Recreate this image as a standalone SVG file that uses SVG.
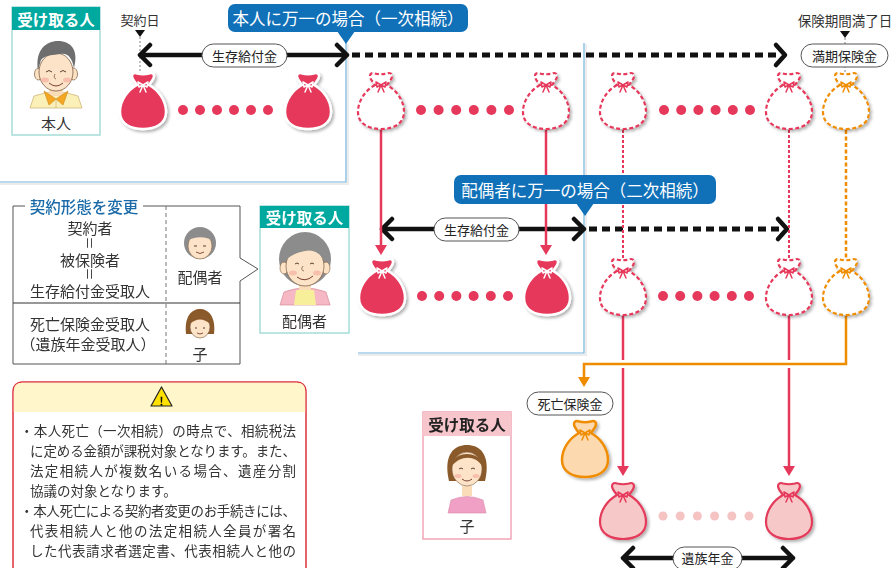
<svg xmlns="http://www.w3.org/2000/svg" width="896" height="568" viewBox="0 0 896 568">
<defs>
  <style>
    text { font-family: 'Noto Sans CJK JP', 'Noto Sans', sans-serif; fill: #333; }
    .hdr { fill: #fff; font-size: 15.5px; font-weight: 700; text-anchor: middle; dominant-baseline: central; }
    .lbl { font-size: 14px; text-anchor: middle; dominant-baseline: central; }
    .pill rect { fill: #fff; stroke: #555; stroke-width: 1; }
    .pill text { font-size: 13px; text-anchor: middle; dominant-baseline: central; fill: #222; }
    .callout text { fill: #fff; font-size: 16.5px; text-anchor: middle; dominant-baseline: central; }
    .callout rect, .callout polygon { fill: #1070b8; }
    .solid { fill: none; stroke: #111; stroke-width: 4.5; stroke-linecap: round; stroke-linejoin: round; }
    .dash { fill: none; stroke: #111; stroke-width: 5; stroke-dasharray: 8 5; }
    .panel { fill: none; stroke: #74b5de; stroke-width: 1.2; }
    .panel-sh { fill: none; stroke: #ececec; stroke-width: 2; }
    .guide { stroke: #999; stroke-width: 1.2; stroke-dasharray: 2 2; fill: none; }
    .dot { fill: #e6385a; }
    .pdot { fill: #f6c3c3; }
    .bag-solid { fill: #e6385a; stroke: #fff; stroke-width: 2.5; }
    .bag-dash { fill: #fff; stroke: #e6385a; stroke-width: 2.2; stroke-dasharray: 4 2.5; }
    .bag-odash { fill: #fff; stroke: #f08c00; stroke-width: 2.2; stroke-dasharray: 4 2.5; }
    .bag-pink { fill: #f7c8c8; stroke: #e43a5a; stroke-width: 2.2; }
    .bag-orange { fill: #fcd9ae; stroke: #f08c00; stroke-width: 2.5; }
    .bow-w { fill: none; stroke: #fff; stroke-width: 1.5; stroke-linecap: round; stroke-linejoin: round; }
    .bow-r { fill: none; stroke: #e6385a; stroke-width: 1.5; stroke-linecap: round; stroke-linejoin: round; }
    .bow-o { fill: none; stroke: #f08c00; stroke-width: 1.5; stroke-linecap: round; stroke-linejoin: round; }
    .red { stroke: #e6385a; stroke-width: 2.5; fill: none; }
    .red-dot { stroke: #e6385a; stroke-width: 2; stroke-dasharray: 3 2; fill: none; }
    .org { stroke: #f08c00; stroke-width: 2.5; fill: none; }
    .org-dot { stroke: #f08c00; stroke-width: 2.5; stroke-dasharray: 4 2.5; fill: none; }
    .note { font-size: 13.5px; }
  </style>
  <filter id="sh" x="-30%" y="-30%" width="160%" height="160%">
    <feDropShadow dx="2" dy="2" stdDeviation="1.5" flood-color="#000" flood-opacity="0.3"/>
  </filter>
  <!-- money bag, centred on its middle, 56 tall -->
  <path id="bag" d="M -6,-16 C -15,-11 -23,-1 -23,11 C -23,23 -12,28 0,28 C 12,28 23,23 23,11 C 23,-1 15,-11 6,-16 C 8,-19 11,-22 11,-25 C 11,-28 8,-28.5 6,-27.5 Q 0,-26 -6,-27.5 C -8,-28.5 -11,-28 -11,-25 C -11,-22 -8,-19 -6,-16 Z"/>
  <!-- knot: two small loops and two tails -->
  <path id="bow" d="M 0,-16 L -5,-19 L -4,-14 Z M 0,-16 L 5,-19 L 4,-14 Z M 0,-16 L -3,-9 M 0,-16 L 3,-9"/>
  <path id="tri" d="M -5,0 L 5,0 L 0,7 Z" fill="#111"/>
  <path id="ahead" d="M -6,-10 L 6,-10 L 0,0 Z"/>
</defs>

<rect width="896" height="568" fill="#fff"/>

<!-- panel frames -->
<g id="panels">
  <path class="panel-sh" d="M 0,184 H 348 V 44"/>
  <path class="panel" d="M 0,182 H 346 V 43"/>
  <path class="panel-sh" d="M 358,355 H 586 V 44"/>
  <path class="panel" d="M 358,353 H 584 V 43"/>
</g>

<!-- recipient: 本人 -->
<g id="recipient-self">
  <rect x="12" y="7" width="88" height="128" fill="#fff" stroke="#a6dcd8" stroke-width="1.5"/>
  <rect x="12" y="7" width="88" height="23" fill="#00a99f"/>
  <text class="hdr" x="56" y="18.5">受け取る人</text>
  <path d="M 30,108 L 34,96 Q 56,88 78,96 L 82,108 Z" fill="#fbf0b8" stroke="#cdb77c" stroke-width="0.8"/>
  <rect x="49" y="84" width="14" height="12" fill="#fbdcb8"/>
  <path d="M 44,91 L 56,99 L 49,105 Z M 68,91 L 56,99 L 63,105 Z" fill="#f5a623" stroke="#c98416" stroke-width="0.6"/>
  <line x1="56" y1="99" x2="56" y2="108" stroke="#cdb77c" stroke-width="0.8"/>
  <ellipse cx="38.5" cy="74" rx="4" ry="6" fill="#fde2c4" stroke="#7a5a40" stroke-width="0.7"/>
  <ellipse cx="73.5" cy="74" rx="4" ry="6" fill="#fde2c4" stroke="#7a5a40" stroke-width="0.7"/>
  <ellipse cx="56" cy="72" rx="17" ry="19" fill="#fde4c8" stroke="#7a5a40" stroke-width="0.8"/>
  <path d="M 38,70 C 35,50 46,41 58,41 C 71,41 79,50 74,68 C 72,58 68,53 61,54 C 53,55 45,55 41,60 Z" fill="#6e6e6e"/>
  <path d="M 46,72 q 3,-3 6,0 M 60,72 q 3,-3 6,0" fill="none" stroke="#5a4030" stroke-width="1"/>
  <ellipse cx="45" cy="80" rx="4" ry="2.5" fill="#f5b0a0" opacity="0.7"/>
  <ellipse cx="67" cy="80" rx="4" ry="2.5" fill="#f5b0a0" opacity="0.7"/>
  <path d="M 55,74 q -2,4 1,5" fill="none" stroke="#7a5a40" stroke-width="0.8"/>
  <path d="M 49,83 q 7,6 14,0" fill="none" stroke="#7a4030" stroke-width="1"/>
  <text class="lbl" x="56" y="122" style="font-size:15px">本人</text>
</g>

<!-- first-death callout -->
<g id="callout-first" class="callout">
  <rect x="228" y="4" width="240" height="28" rx="7"/>
  <polygon points="337,31 355,31 346,44"/>
  <text x="348" y="18">本人に万一の場合（一次相続）</text>
</g>

<!-- date markers -->
<g id="marker-contract">
  <text class="lbl" x="140" y="19" style="font-size:13px">契約日</text>
  <use href="#tri" x="140" y="30"/>
</g>
<g id="marker-maturity">
  <text class="lbl" x="845" y="20" style="font-size:13.5px">保険期間満了日</text>
  <use href="#tri" x="845" y="31"/>
</g>

<!-- connectors -->
<g id="connectors">
  <line class="guide" x1="140" y1="37" x2="140" y2="74"/>
  <line class="guide" x1="845" y1="38" x2="845" y2="74"/>

  <!-- row 1: survival benefit span -->
  <path class="solid" d="M 140,55 H 347 M 150,45 L 140,55 L 150,65 M 337,45 L 347,55 L 337,65"/>
  <path class="dash" d="M 352,55 H 780"/>
  <path class="solid" d="M 776,45 L 785,55 L 776,65"/>

  <!-- row 2: survival benefit span -->
  <path class="solid" d="M 382,229 H 584 M 392,219 L 382,229 L 392,239 M 574,219 L 584,229 L 574,239"/>
  <path class="dash" d="M 589,229 H 782"/>
  <path class="solid" d="M 778,219 L 787,229 L 778,239"/>

  <!-- bottom: survivor pension span -->
  <path class="solid" d="M 623,558 H 793 M 633,548 L 623,558 L 633,568 M 783,548 L 793,558 L 783,568"/>

  <!-- hand-over from row 1 to row 2 -->
  <line class="red" x1="381" y1="130" x2="381" y2="246"/>
  <use href="#ahead" x="381" y="255" fill="#e6385a"/>
  <line class="red" x1="546" y1="130" x2="546" y2="246"/>
  <use href="#ahead" x="546" y="255" fill="#e6385a"/>
  <line class="red-dot" x1="623" y1="130" x2="623" y2="260"/>
  <line class="red-dot" x1="789" y1="130" x2="789" y2="260"/>
  <line class="org-dot" x1="846" y1="130" x2="846" y2="260"/>

  <!-- row 2 to the child -->
  <line class="red" x1="623" y1="316" x2="623" y2="467"/>
  <use href="#ahead" x="623" y="476" fill="#e6385a"/>
  <line class="red" x1="789" y1="316" x2="789" y2="467"/>
  <use href="#ahead" x="789" y="476" fill="#e6385a"/>
  <path d="M 846,316 V 364 H 584" fill="none" stroke="#fff" stroke-width="8"/>
  <path class="org" d="M 846,316 V 364 H 584 V 378"/>
  <use href="#ahead" x="584" y="387" fill="#f08c00"/>
</g>

<!-- span labels -->
<g id="label-survival-1" class="pill">
  <rect x="202" y="44" width="85" height="23" rx="11.5"/>
  <text x="244.5" y="55.5">生存給付金</text>
</g>
<g id="label-maturity" class="pill">
  <rect x="801" y="44" width="87" height="23" rx="11.5"/>
  <text x="844.5" y="55.5">満期保険金</text>
</g>
<g id="label-survival-2" class="pill">
  <rect x="434" y="218" width="85" height="23" rx="11.5"/>
  <text x="476.5" y="229.5">生存給付金</text>
</g>
<g id="label-death" class="pill">
  <rect x="527" y="392" width="86" height="23" rx="11.5"/>
  <text x="570" y="403.5">死亡保険金</text>
</g>
<g id="label-pension" class="pill">
  <rect x="673" y="547" width="69" height="23" rx="11.5"/>
  <text x="707.5" y="557.5">遺族年金</text>
</g>

<!-- row 1 payments -->
<g id="row1">
  <g filter="url(#sh)">
    <use href="#bag" class="bag-solid" x="143" y="101"/>
    <use href="#bag" class="bag-solid" x="308" y="101"/>
    <use href="#bag" class="bag-dash" x="381" y="101"/>
    <use href="#bag" class="bag-dash" x="546" y="101"/>
    <use href="#bag" class="bag-dash" x="623" y="101"/>
    <use href="#bag" class="bag-dash" x="789" y="101"/>
    <use href="#bag" class="bag-odash" x="846" y="101"/>
  </g>
  <use href="#bow" class="bow-w" x="143" y="101"/>
  <use href="#bow" class="bow-w" x="308" y="101"/>
  <use href="#bow" class="bow-r" x="381" y="101"/>
  <use href="#bow" class="bow-r" x="546" y="101"/>
  <use href="#bow" class="bow-r" x="623" y="101"/>
  <use href="#bow" class="bow-r" x="789" y="101"/>
  <use href="#bow" class="bow-o" x="846" y="101"/>
  <g class="dot">
    <circle cx="183" cy="110" r="5"/><circle cx="200" cy="110" r="5"/><circle cx="217" cy="110" r="5"/>
    <circle cx="234" cy="110" r="5"/><circle cx="251" cy="110" r="5"/><circle cx="268" cy="110" r="5"/>
    <circle cx="421" cy="110" r="5"/><circle cx="438.6" cy="110" r="5"/><circle cx="456.2" cy="110" r="5"/>
    <circle cx="473.8" cy="110" r="5"/><circle cx="491.4" cy="110" r="5"/><circle cx="509" cy="110" r="5"/>
    <circle cx="664" cy="110" r="5"/><circle cx="681.2" cy="110" r="5"/><circle cx="698.4" cy="110" r="5"/>
    <circle cx="715.6" cy="110" r="5"/><circle cx="732.8" cy="110" r="5"/><circle cx="750" cy="110" r="5"/>
  </g>
</g>

<!-- second-death callout -->
<g id="callout-second" class="callout">
  <rect x="454" y="175" width="262" height="29" rx="7"/>
  <polygon points="576,203 594,203 585,216"/>
  <text x="585" y="189.5">配偶者に万一の場合（二次相続）</text>
</g>

<!-- row 2 payments -->
<g id="row2">
  <g filter="url(#sh)">
    <use href="#bag" class="bag-solid" x="382" y="287"/>
    <use href="#bag" class="bag-solid" x="547" y="287"/>
    <use href="#bag" class="bag-dash" x="623" y="287"/>
    <use href="#bag" class="bag-dash" x="789" y="287"/>
    <use href="#bag" class="bag-odash" x="846" y="287"/>
  </g>
  <use href="#bow" class="bow-w" x="382" y="287"/>
  <use href="#bow" class="bow-w" x="547" y="287"/>
  <use href="#bow" class="bow-r" x="623" y="287"/>
  <use href="#bow" class="bow-r" x="789" y="287"/>
  <use href="#bow" class="bow-o" x="846" y="287"/>
  <g class="dot">
    <circle cx="422" cy="296" r="5"/><circle cx="439.2" cy="296" r="5"/><circle cx="456.4" cy="296" r="5"/>
    <circle cx="473.6" cy="296" r="5"/><circle cx="490.8" cy="296" r="5"/><circle cx="508" cy="296" r="5"/>
    <circle cx="663" cy="296" r="5"/><circle cx="680.2" cy="296" r="5"/><circle cx="697.4" cy="296" r="5"/>
    <circle cx="714.6" cy="296" r="5"/><circle cx="731.8" cy="296" r="5"/><circle cx="749" cy="296" r="5"/>
  </g>
</g>

<!-- death benefit and survivor pension -->
<g id="row3">
  <g filter="url(#sh)">
    <use href="#bag" class="bag-orange" x="585" y="449"/>
    <use href="#bag" class="bag-pink" x="623" y="511"/>
    <use href="#bag" class="bag-pink" x="789" y="511"/>
  </g>
  <use href="#bow" class="bow-o" x="585" y="449"/>
  <use href="#bow" class="bow-r" x="623" y="511"/>
  <use href="#bow" class="bow-r" x="789" y="511"/>
  <g class="pdot">
    <circle cx="663" cy="516" r="4.5"/><circle cx="680.2" cy="516" r="4.5"/><circle cx="697.4" cy="516" r="4.5"/>
    <circle cx="714.6" cy="516" r="4.5"/><circle cx="731.8" cy="516" r="4.5"/><circle cx="749" cy="516" r="4.5"/>
  </g>
</g>

<!-- contract change table -->
<g id="contract-change">
  <path d="M 25,206 H 13 V 364 H 240 V 281 L 258,269 L 240,258 V 206 H 143" fill="#fff" stroke="#555" stroke-width="1"/>
  <line x1="13" y1="303" x2="240" y2="303" stroke="#333" stroke-width="1.2"/>
  <line x1="166" y1="206" x2="166" y2="364" stroke="#777" stroke-width="1" stroke-dasharray="4 3"/>
  <text x="84" y="206" style="font-size:15.5px;fill:#1a6aa8;font-weight:500;text-anchor:middle;dominant-baseline:central">契約形態を変更</text>
  <text class="lbl" x="90" y="227" style="font-size:15px">契約者</text>
  <text class="lbl" x="90" y="243" transform="rotate(90 90 243)" style="font-size:13px">＝</text>
  <text class="lbl" x="90" y="259" style="font-size:15px">被保険者</text>
  <text class="lbl" x="90" y="274" transform="rotate(90 90 274)" style="font-size:13px">＝</text>
  <text class="lbl" x="90" y="290" style="font-size:15px">生存給付金受取人</text>
  <text class="lbl" x="90" y="323" style="font-size:15px">死亡保険金受取人</text>
  <text class="lbl" x="88" y="343" style="font-size:15px">（遺族年金受取人）</text>
  <!-- spouse face -->
  <circle cx="200" cy="243" r="16" fill="#8c8c8c"/>
  <ellipse cx="200" cy="246" rx="12" ry="13" fill="#fde4c8" stroke="#7a5a40" stroke-width="0.6"/>
  <path d="M 187,241 C 188,229 212,229 213,241 C 207,236 194,236 187,241 Z" fill="#8c8c8c"/>
  <path d="M 194,246 h 3 M 203,246 h 3" stroke="#5a4030" stroke-width="1"/>
  <path d="M 196,252 q 4,3 8,0" fill="none" stroke="#7a4030" stroke-width="0.9"/>
  <text class="lbl" x="200" y="276" style="font-size:15px">配偶者</text>
  <!-- child face -->
  <path d="M 186,334 C 184,316 192,309 200,309 C 208,309 216,316 214,334 Z" fill="#8b5a2b"/>
  <ellipse cx="200" cy="327" rx="10" ry="11" fill="#fde4c8" stroke="#7a5a40" stroke-width="0.6"/>
  <path d="M 190,324 C 192,313 208,313 210,324 C 204,318 196,318 190,324 Z" fill="#8b5a2b"/>
  <path d="M 195,328 h 2 M 203,328 h 2" stroke="#5a4030" stroke-width="1"/>
  <path d="M 197,333 q 3,2 6,0" fill="none" stroke="#7a4030" stroke-width="0.9"/>
  <text class="lbl" x="200" y="353" style="font-size:15px">子</text>
</g>

<!-- recipient: 配偶者 -->
<g id="recipient-spouse">
  <rect x="260" y="206" width="89" height="127" fill="#fff" stroke="#a6dcd8" stroke-width="1.5"/>
  <rect x="260" y="206" width="89" height="22" fill="#00a99f"/>
  <text class="hdr" x="304.5" y="217">受け取る人</text>
  <path d="M 280,305 L 284,292 Q 305,284 326,292 L 330,305 Z" fill="#f5b8c4" stroke="#d98a98" stroke-width="0.7"/>
  <path d="M 294,305 L 296,290 L 314,290 L 316,305 Z" fill="#f8ef9a"/>
  <rect x="299" y="278" width="12" height="12" fill="#fbdcb8"/>
  <ellipse cx="305" cy="259" rx="26" ry="27" fill="#8c8c8c"/>
  <ellipse cx="284" cy="268" rx="4" ry="6" fill="#fde2c4" stroke="#7a5a40" stroke-width="0.6"/>
  <ellipse cx="326" cy="268" rx="4" ry="6" fill="#fde2c4" stroke="#7a5a40" stroke-width="0.6"/>
  <ellipse cx="305" cy="266" rx="19" ry="20" fill="#fde4c8" stroke="#7a5a40" stroke-width="0.7"/>
  <path d="M 285,262 C 284,243 298,237 307,237 C 318,237 328,245 325,262 C 320,252 312,249 305,251 C 296,253 290,255 285,262 Z" fill="#8c8c8c"/>
  <path d="M 295,264 q 2,-2 4,0 M 310,264 q 2,-2 4,0" fill="none" stroke="#5a4030" stroke-width="1"/>
  <ellipse cx="293" cy="273" rx="4" ry="2.5" fill="#f5b0a0" opacity="0.7"/>
  <ellipse cx="317" cy="273" rx="4" ry="2.5" fill="#f5b0a0" opacity="0.7"/>
  <path d="M 303,266 q -3,4 1,5" fill="none" stroke="#7a5a40" stroke-width="0.8"/>
  <path d="M 297,277 q 8,6 16,-1" fill="none" stroke="#7a4030" stroke-width="1"/>
  <text class="lbl" x="304.5" y="320" style="font-size:15px">配偶者</text>
</g>

<!-- recipient: 子 -->
<g id="recipient-child">
  <rect x="423" y="412" width="88" height="127" fill="#fff" stroke="#f1a6b6" stroke-width="1.5"/>
  <rect x="423" y="412" width="88" height="24" fill="#f7c5cc"/>
  <text class="hdr" x="467" y="424" style="fill:#222">受け取る人</text>
  <path d="M 449,481 C 444,460 450,445 467,445 C 484,445 490,460 485,481 Z" fill="#8b5a2b"/>
  <path d="M 448,513 L 451,500 Q 467,493 483,500 L 486,513 Z" fill="#f0a0c4" stroke="#d88aa8" stroke-width="0.6"/>
  <rect x="462" y="486" width="10" height="10" fill="#fbdcb8"/>
  <ellipse cx="467" cy="469" rx="15" ry="17" fill="#fde4c8" stroke="#7a5a40" stroke-width="0.6"/>
  <path d="M 452,466 C 452,450 482,450 482,466 C 476,455 460,455 452,466 Z" fill="#8b5a2b"/>
  <path d="M 459,469 q 2,-2 4,0 M 471,469 q 2,-2 4,0" fill="none" stroke="#5a4030" stroke-width="1"/>
  <ellipse cx="458" cy="476" rx="3.5" ry="2" fill="#f5b0a0" opacity="0.7"/>
  <ellipse cx="476" cy="476" rx="3.5" ry="2" fill="#f5b0a0" opacity="0.7"/>
  <path d="M 462,479 q 5,4 10,0" fill="none" stroke="#7a4030" stroke-width="1"/>
  <text class="lbl" x="467" y="525" style="font-size:15px">子</text>
</g>

<!-- caution notes -->
<g id="caution">
  <rect x="13" y="382" width="293" height="220" rx="9" fill="#fff" stroke="#e0303a" stroke-width="1.5"/>
  <path d="M 13.8,412 V 391 Q 13.8,382.8 22,382.8 H 297 Q 305.2,382.8 305.2,391 V 412 Z" fill="#fff6cc"/>
  <polygon points="161.5,387 151,406 172,406" fill="#ffe100" stroke="#222" stroke-width="1.2" stroke-linejoin="round"/>
  <text x="161.5" y="400" style="font-size:12px;font-weight:700;fill:#111;text-anchor:middle;dominant-baseline:central">!</text>
  <text class="note" x="20" y="430" dominant-baseline="central" textLength="276" lengthAdjust="spacing">・本人死亡（一次相続）の時点で、相続税法</text>
  <text class="note" x="30" y="450" dominant-baseline="central" textLength="266" lengthAdjust="spacing">に定める金額が課税対象となります。また、</text>
  <text class="note" x="30" y="470" dominant-baseline="central" textLength="266" lengthAdjust="spacing">法定相続人が複数名いる場合、遺産分割</text>
  <text class="note" x="30" y="490" dominant-baseline="central">協議の対象となります。</text>
  <text class="note" x="20" y="510" dominant-baseline="central" textLength="276" lengthAdjust="spacing">・本人死亡による契約者変更のお手続きには、</text>
  <text class="note" x="30" y="530" dominant-baseline="central" textLength="266" lengthAdjust="spacing">代表相続人と他の法定相続人全員が署名</text>
  <text class="note" x="30" y="550" dominant-baseline="central" textLength="266" lengthAdjust="spacing">した代表請求者選定書、代表相続人と他の</text>
</g>
</svg>
